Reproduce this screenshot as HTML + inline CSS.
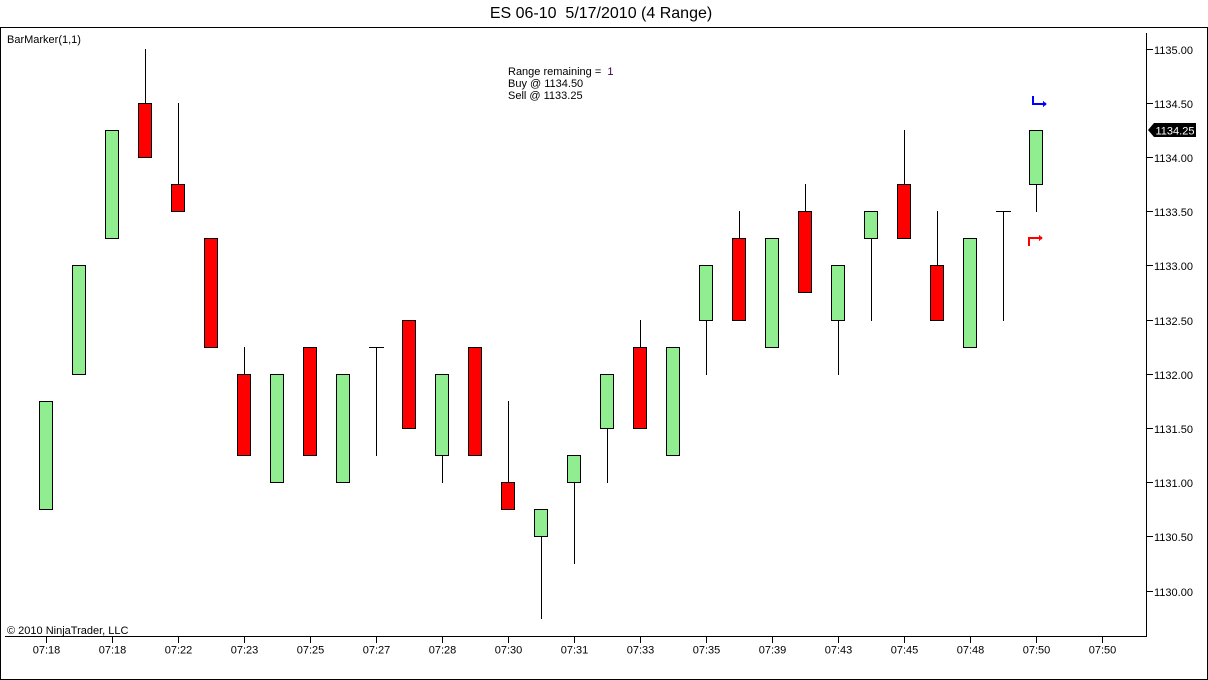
<!DOCTYPE html>
<html>
<head>
<meta charset="utf-8">
<style>
  html, body { margin:0; padding:0; background:#fff; }
  body { width:1208px; height:680px; overflow:hidden; }
  svg { display:block; }
  text { font-family: "Liberation Sans", Arial, sans-serif; fill:#000; }
</style>
</head>
<body>
<svg width="1208" height="680" viewBox="0 0 1208 680" xmlns="http://www.w3.org/2000/svg">
  <rect x="0" y="0" width="1208" height="680" fill="#fff"/>
  <!-- title -->
  <text x="601" y="18" font-size="16" text-anchor="middle" style="white-space:pre">ES 06-10  5/17/2010 (4 Range)</text>
  <!-- outer frame -->
  <g shape-rendering="crispEdges" stroke="#000" stroke-width="1" fill="none">
    <line x1="0" y1="27.5" x2="1208" y2="27.5"/>
    <line x1="0.5" y1="27" x2="0.5" y2="680"/>
    <line x1="1207.5" y1="27" x2="1207.5" y2="680"/>
    <line x1="0" y1="679.5" x2="1208" y2="679.5"/>
    <!-- axes -->
    <line x1="1146.5" y1="33" x2="1146.5" y2="637"/>
    <line x1="5" y1="636.5" x2="1147" y2="636.5"/>
    <!-- y ticks -->
    <line x1="1146" y1="49.5" x2="1153" y2="49.5"/>
    <line x1="1146" y1="103.5" x2="1153" y2="103.5"/>
    <line x1="1146" y1="157.5" x2="1153" y2="157.5"/>
    <line x1="1146" y1="211.5" x2="1153" y2="211.5"/>
    <line x1="1146" y1="265.5" x2="1153" y2="265.5"/>
    <line x1="1146" y1="320.5" x2="1153" y2="320.5"/>
    <line x1="1146" y1="374.5" x2="1153" y2="374.5"/>
    <line x1="1146" y1="428.5" x2="1153" y2="428.5"/>
    <line x1="1146" y1="482.5" x2="1153" y2="482.5"/>
    <line x1="1146" y1="536.5" x2="1153" y2="536.5"/>
    <line x1="1146" y1="591.5" x2="1153" y2="591.5"/>
    <!-- x ticks -->
    <line x1="46.5" y1="636" x2="46.5" y2="643"/>
    <line x1="112.5" y1="636" x2="112.5" y2="643"/>
    <line x1="178.5" y1="636" x2="178.5" y2="643"/>
    <line x1="244.5" y1="636" x2="244.5" y2="643"/>
    <line x1="310.5" y1="636" x2="310.5" y2="643"/>
    <line x1="376.5" y1="636" x2="376.5" y2="643"/>
    <line x1="442.5" y1="636" x2="442.5" y2="643"/>
    <line x1="508.5" y1="636" x2="508.5" y2="643"/>
    <line x1="574.5" y1="636" x2="574.5" y2="643"/>
    <line x1="640.5" y1="636" x2="640.5" y2="643"/>
    <line x1="706.5" y1="636" x2="706.5" y2="643"/>
    <line x1="772.5" y1="636" x2="772.5" y2="643"/>
    <line x1="838.5" y1="636" x2="838.5" y2="643"/>
    <line x1="904.5" y1="636" x2="904.5" y2="643"/>
    <line x1="970.5" y1="636" x2="970.5" y2="643"/>
    <line x1="1036.5" y1="636" x2="1036.5" y2="643"/>
    <line x1="1102.5" y1="636" x2="1102.5" y2="643"/>
  </g>

  <!-- y labels -->
  <g font-size="11">
    <text x="1154" y="54">1135.00</text>
    <text x="1154" y="108">1134.50</text>
    <text x="1154" y="162">1134.00</text>
    <text x="1154" y="216">1133.50</text>
    <text x="1154" y="270">1133.00</text>
    <text x="1154" y="325">1132.50</text>
    <text x="1154" y="379">1132.00</text>
    <text x="1154" y="433">1131.50</text>
    <text x="1154" y="487">1131.00</text>
    <text x="1154" y="541">1130.50</text>
    <text x="1154" y="596">1130.00</text>
  </g>
  <!-- x labels -->
  <g font-size="11" text-anchor="middle">
    <text x="46.5" y="653.5">07:18</text>
    <text x="112.5" y="653.5">07:18</text>
    <text x="178.5" y="653.5">07:22</text>
    <text x="244.5" y="653.5">07:23</text>
    <text x="310.5" y="653.5">07:25</text>
    <text x="376.5" y="653.5">07:27</text>
    <text x="442.5" y="653.5">07:28</text>
    <text x="508.5" y="653.5">07:30</text>
    <text x="574.5" y="653.5">07:31</text>
    <text x="640.5" y="653.5">07:33</text>
    <text x="706.5" y="653.5">07:35</text>
    <text x="772.5" y="653.5">07:39</text>
    <text x="838.5" y="653.5">07:43</text>
    <text x="904.5" y="653.5">07:45</text>
    <text x="970.5" y="653.5">07:48</text>
    <text x="1036.5" y="653.5">07:50</text>
    <text x="1102.5" y="653.5">07:50</text>
  </g>

  <!-- labels -->
  <text x="7" y="43" font-size="11">BarMarker(1,1)</text>
  <text x="7" y="634" font-size="11">© 2010 NinjaTrader, LLC</text>
  <g font-size="11">
    <text x="508" y="75" style="white-space:pre">Range remaining =  <tspan fill="#400040">1</tspan></text>
    <text x="508" y="87">Buy @ 1134.50</text>
    <text x="508" y="99">Sell @ 1133.25</text>
  </g>

  <!-- price tag -->
  <polygon points="1148,130 1154,123 1196,123 1196,137 1154,137" fill="#000"/>
  <text x="1155.5" y="134.5" font-size="11" style="fill:#fff">1134.25</text>

  <!-- wicks -->
  <g stroke="#000" stroke-width="1" shape-rendering="crispEdges">
    <line x1="145.5" y1="49" x2="145.5" y2="104"/>
    <line x1="178.5" y1="103" x2="178.5" y2="185"/>
    <line x1="244.5" y1="347" x2="244.5" y2="375"/>
    <line x1="376.5" y1="347" x2="376.5" y2="456"/>
    <line x1="369" y1="347.5" x2="384" y2="347.5"/>
    <line x1="442.5" y1="455" x2="442.5" y2="483"/>
    <line x1="508.5" y1="401" x2="508.5" y2="483"/>
    <line x1="541.5" y1="536" x2="541.5" y2="619"/>
    <line x1="574.5" y1="482" x2="574.5" y2="564"/>
    <line x1="607.5" y1="428" x2="607.5" y2="483"/>
    <line x1="640.5" y1="320" x2="640.5" y2="348"/>
    <line x1="706.5" y1="320" x2="706.5" y2="375"/>
    <line x1="739.5" y1="211" x2="739.5" y2="239"/>
    <line x1="805.5" y1="184" x2="805.5" y2="212"/>
    <line x1="838.5" y1="320" x2="838.5" y2="375"/>
    <line x1="871.5" y1="238" x2="871.5" y2="321"/>
    <line x1="904.5" y1="130" x2="904.5" y2="185"/>
    <line x1="937.5" y1="211" x2="937.5" y2="266"/>
    <line x1="1003.5" y1="211" x2="1003.5" y2="321"/>
    <line x1="996" y1="211.5" x2="1011" y2="211.5"/>
    <line x1="1036.5" y1="184" x2="1036.5" y2="212"/>
  </g>

  <!-- bodies -->
  <g stroke="#000" stroke-width="1" shape-rendering="crispEdges">
    <rect x="39.5" y="401.5" width="13" height="108" fill="#90EE90"/>
    <rect x="72.5" y="265.5" width="13" height="109" fill="#90EE90"/>
    <rect x="105.5" y="130.5" width="13" height="108" fill="#90EE90"/>
    <rect x="138.5" y="103.5" width="13" height="54" fill="#FF0000"/>
    <rect x="171.5" y="184.5" width="13" height="27" fill="#FF0000"/>
    <rect x="204.5" y="238.5" width="13" height="109" fill="#FF0000"/>
    <rect x="237.5" y="374.5" width="13" height="81" fill="#FF0000"/>
    <rect x="270.5" y="374.5" width="13" height="108" fill="#90EE90"/>
    <rect x="303.5" y="347.5" width="13" height="108" fill="#FF0000"/>
    <rect x="336.5" y="374.5" width="13" height="108" fill="#90EE90"/>
    <rect x="402.5" y="320.5" width="13" height="108" fill="#FF0000"/>
    <rect x="435.5" y="374.5" width="13" height="81" fill="#90EE90"/>
    <rect x="468.5" y="347.5" width="13" height="108" fill="#FF0000"/>
    <rect x="501.5" y="482.5" width="13" height="27" fill="#FF0000"/>
    <rect x="534.5" y="509.5" width="13" height="27" fill="#90EE90"/>
    <rect x="567.5" y="455.5" width="13" height="27" fill="#90EE90"/>
    <rect x="600.5" y="374.5" width="13" height="54" fill="#90EE90"/>
    <rect x="633.5" y="347.5" width="13" height="81" fill="#FF0000"/>
    <rect x="666.5" y="347.5" width="13" height="108" fill="#90EE90"/>
    <rect x="699.5" y="265.5" width="13" height="55" fill="#90EE90"/>
    <rect x="732.5" y="238.5" width="13" height="82" fill="#FF0000"/>
    <rect x="765.5" y="238.5" width="13" height="109" fill="#90EE90"/>
    <rect x="798.5" y="211.5" width="13" height="81" fill="#FF0000"/>
    <rect x="831.5" y="265.5" width="13" height="55" fill="#90EE90"/>
    <rect x="864.5" y="211.5" width="13" height="27" fill="#90EE90"/>
    <rect x="897.5" y="184.5" width="13" height="54" fill="#FF0000"/>
    <rect x="930.5" y="265.5" width="13" height="55" fill="#FF0000"/>
    <rect x="963.5" y="238.5" width="13" height="109" fill="#90EE90"/>
    <rect x="1029.5" y="130.5" width="13" height="54" fill="#90EE90"/>
  </g>

  <!-- markers -->
  <g shape-rendering="crispEdges">
    <rect x="1032" y="96" width="2" height="9" fill="#0000FF"/>
    <rect x="1032" y="103" width="11" height="2" fill="#0000FF"/>
    <polygon points="1043,101 1047,104 1043,107" fill="#0000FF"/>
    <rect x="1028" y="237" width="2" height="9" fill="#FF0000"/>
    <rect x="1028" y="237" width="11" height="2" fill="#FF0000"/>
    <polygon points="1039,235 1043,238 1039,241" fill="#FF0000"/>
  </g>
</svg>
</body>
</html>
